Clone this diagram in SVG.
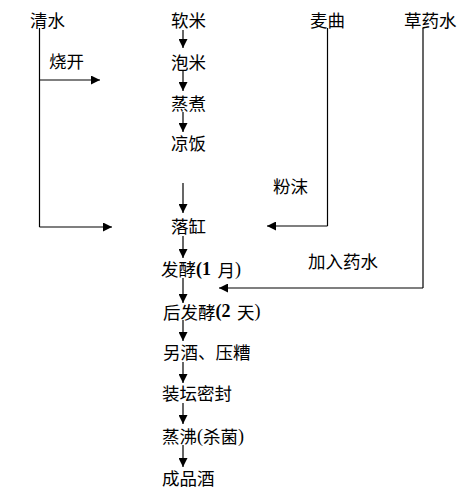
<svg xmlns="http://www.w3.org/2000/svg" width="463" height="497" viewBox="0 0 463 497">
<defs>
<marker id="ah" viewBox="0 0 10 10" refX="10" refY="5" markerWidth="9" markerHeight="9" markerUnits="userSpaceOnUse" orient="auto">
<path d="M0,0 L10,5 L0,10 z" fill="#000"/>
</marker>
<style>
text{font-family:"Noto Sans CJK SC","Liberation Sans",sans-serif;font-size:17.5px;fill:#000;dominant-baseline:central}
.l{fill:none;stroke:#000;stroke-width:1.2}
.a{marker-end:url(#ah)}
.s{font-family:"Liberation Serif",serif;font-size:18px}
.b{font-family:"Liberation Serif",serif;font-weight:bold;font-size:18px}
</style>
</defs>
<rect width="463" height="497" fill="#fff"/>
<g id="connectors">
<path class="l" d="M39.5,28 V227"/>
<path class="l a" d="M39.5,80 H100"/>
<path class="l a" d="M39.5,227 H112"/>
<path class="l" d="M327.5,28 V226"/>
<path class="l a" d="M327.5,226 H267"/>
<path class="l" d="M423,28 V288"/>
<path class="l a" d="M423,288 H219"/>
<path class="l a" d="M183,30 V48"/>
<path class="l a" d="M183,70 V91"/>
<path class="l a" d="M183,112 V132"/>
<path class="l a" d="M183,183 V213"/>
<path class="l a" d="M183,236 V258"/>
<path class="l a" d="M183,278 V303"/>
<path class="l a" d="M183,320 V341"/>
<path class="l a" d="M183,362 V383"/>
<path class="l a" d="M183,403 V424"/>
<path class="l a" d="M183,445 V467"/>
</g>
<g id="n-qingshui"><text x="30" y="19.5">清水</text></g>
<g id="n-ruanmi"><text x="171" y="19.5">软米</text></g>
<g id="n-maiqu"><text x="310" y="19.5">麦曲</text></g>
<g id="n-caoyaoshui"><text x="404" y="19.5">草药水</text></g>
<g id="l-shaokai"><text x="49" y="60">烧开</text></g>
<g id="n-paomi"><text x="171" y="61">泡米</text></g>
<g id="n-zhengzhu"><text x="171" y="102.5">蒸煮</text></g>
<g id="n-liangfan"><text x="171" y="142.5">凉饭</text></g>
<g id="l-fenmo"><text x="273" y="185">粉沫</text></g>
<g id="n-luogang"><text x="171" y="225.5">落缸</text></g>
<g id="l-jiaru"><text x="308" y="260">加入药水</text></g>
<g id="n-fajiao"><text x="161" y="268.5">发酵<tspan class="b">(1 </tspan><tspan dx="2">月</tspan><tspan class="s">)</tspan></text></g>
<g id="n-houfajiao"><text x="163" y="311">后发酵<tspan class="b">(2 </tspan><tspan dx="2">天</tspan><tspan class="s">)</tspan></text></g>
<g id="n-lingjiu"><text x="163" y="351.5">另酒、压糟</text></g>
<g id="n-zhuangtan"><text x="162" y="392.5">装坛密封</text></g>
<g id="n-zhengfei"><text x="162" y="435.5">蒸沸<tspan class="s">(</tspan>杀菌<tspan class="s">)</tspan></text></g>
<g id="n-chengpin"><text x="162" y="477.5">成品酒</text></g>
</svg>
